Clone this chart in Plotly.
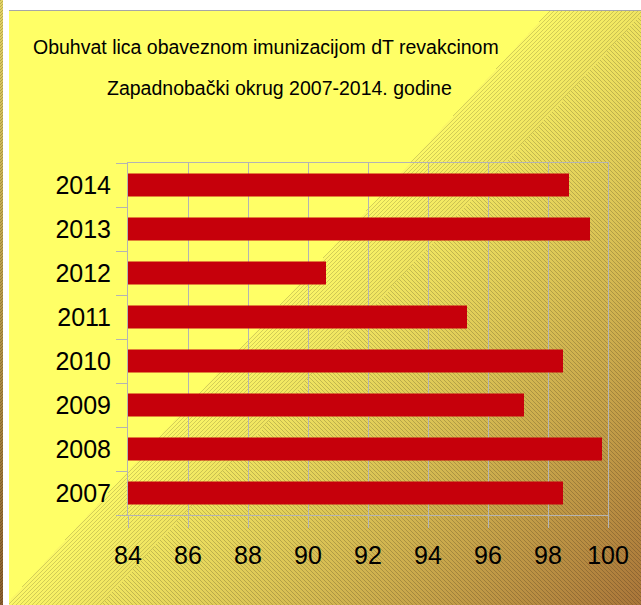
import base64
import struct
import zlib

import numpy as np
import plotly.graph_objects as go

# ---- data -------------------------------------------------------------
years = ["2007", "2008", "2009", "2010", "2011", "2012", "2013", "2014"]
coverage = [98.5, 99.8, 97.2, 98.5, 95.3, 90.6, 99.4, 98.7]
x_ticks = [84, 86, 88, 90, 92, 94, 96, 98, 100]
title_line1 = "Obuhvat lica obaveznom imunizacijom dT revakcinom"
title_line2 = "Zapadnobački okrug 2007-2014. godine"

# ---- figure geometry --------------------------------------------------
W, H = 641, 605
ML, MR, MT, MB = 128, 33, 163, 90
PW, PH = W - ML - MR, H - MT - MB

FONT = "Liberation Sans, Arial, sans-serif"
BAR = "#C6000B"
GRID = "#B4B4B4"


# ---- background picture (yellow -> brown hatched gradient) ------------
def make_png(arr):
    h, w, _ = arr.shape
    raw = b"".join(b"\x00" + arr[i].tobytes() for i in range(h))

    def chunk(tag, data):
        c = struct.pack(">I", len(data)) + tag + data
        return c + struct.pack(">I", zlib.crc32(tag + data) & 0xFFFFFFFF)

    return (b"\x89PNG\r\n\x1a\n"
            + chunk(b"IHDR", struct.pack(">IIBBBBB", w, h, 8, 2, 0, 0, 0))
            + chunk(b"IDAT", zlib.compress(raw, 9))
            + chunk(b"IEND", b""))


yy, xx = np.mgrid[0:H, 0:W]
t = (xx - 9) + 0.915 * (yy - 10)
u = np.clip((t - 540) / (1176 - 540), 0, 1)
c0 = np.array([252, 248, 104], float)
c1 = np.array([170, 118, 58], float)
base = c0 + (c1 - c0) * u[..., None]
stripe = np.where(u < 0.15, (xx + yy) % 4 == 0, (xx - yy) % 4 == 0)
dark = np.where(u < 0.15, 0.84, 0.82)
hatch = base * np.where(stripe, dark, 1.0)[..., None]
yellow = np.array([255, 255, 102], float)
area = np.where((t < 540)[..., None], yellow, hatch)

img = np.full((H, W, 3), 255.0)
chart = (xx >= 9) & (yy >= 11)
img[chart] = area[chart]
img[(yy == 10) & (xx >= 9)] = [166, 166, 166]
# thin strip of neighbouring picture at the far left
v = (yy / (H - 1))[..., None]
top_c = np.array([228, 212, 100.0])
bot_c = np.array([140, 95, 45.0])
strip_col = top_c + (bot_c - top_c) * v
strip_col = strip_col * np.where((xx + yy) % 3 == 0, 0.82, 1.0)[..., None]
left = xx < 3
img[left] = strip_col[left]
img = np.clip(img, 0, 255).astype(np.uint8)
bg_uri = "data:image/png;base64," + base64.b64encode(make_png(img)).decode()

# ---- chart ------------------------------------------------------------
fig = go.Figure(
    go.Bar(
        x=coverage,
        y=years,
        orientation="h",
        marker=dict(color=BAR, line=dict(width=0)),
        width=0.52,
        hoverinfo="x+y",
    )
)

fig.add_layout_image(
    dict(
        source=bg_uri,
        xref="paper", yref="paper",
        x=-ML / PW, y=1 + MT / PH,
        sizex=W / PW, sizey=H / PH,
        xanchor="left", yanchor="top",
        sizing="stretch",
        layer="below",
    )
)

fig.add_annotation(
    text=title_line1, xref="paper", yref="paper",
    x=(266 - ML) / PW, y=(H - MB - 47) / PH,
    xanchor="center", yanchor="middle", showarrow=False,
    font=dict(family=FONT, size=19.5, color="black"),
)
fig.add_annotation(
    text=title_line2, xref="paper", yref="paper",
    x=(279 - ML) / PW, y=(H - MB - 88) / PH,
    xanchor="center", yanchor="middle", showarrow=False,
    font=dict(family=FONT, size=19.5, color="black"),
)

fig.update_layout(
    width=W, height=H,
    margin=dict(l=ML, r=MR, t=MT, b=MB, pad=0),
    paper_bgcolor="rgba(0,0,0,0)",
    plot_bgcolor="rgba(0,0,0,0)",
    showlegend=False,
    bargap=0.48,
    xaxis=dict(
        range=[84, 100],
        tickvals=x_ticks,
        ticktext=[str(v) for v in x_ticks],
        showgrid=True, gridcolor=GRID, gridwidth=1,
        showline=True, linecolor=GRID, linewidth=1, mirror=True,
        ticks="outside", ticklen=12, tickcolor=GRID, tickwidth=1,
        zeroline=False,
        ticklabelstandoff=6,
        tickfont=dict(family=FONT, size=25, color="black"),
        fixedrange=True,
    ),
    yaxis=dict(
        type="category",
        categoryorder="array", categoryarray=years,
        showgrid=False,
        showline=True, linecolor=GRID, linewidth=1, mirror=True,
        ticks="outside", ticklen=11, tickcolor=GRID, tickwidth=1,
        tickson="boundaries",
        ticklabelstandoff=11,
        tickfont=dict(family=FONT, size=25, color="black"),
        fixedrange=True,
    ),
)

fig.write_html(
    "out.html",
    config={"displayModeBar": False, "staticPlot": True},
    post_script="document.body.style.margin='0px';document.body.style.overflow='hidden';",
)
